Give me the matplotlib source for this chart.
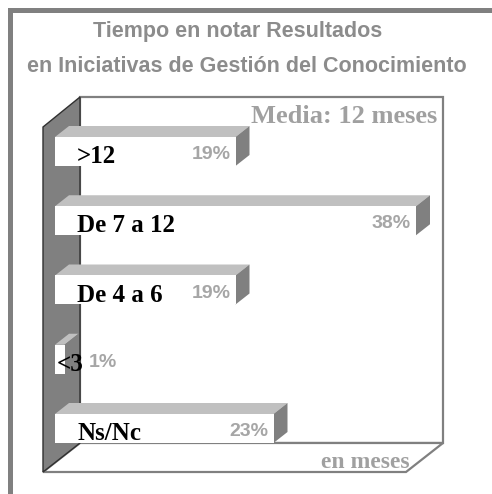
import matplotlib
matplotlib.use("Agg")
import matplotlib.pyplot as plt
from matplotlib.patches import Polygon, Rectangle
from matplotlib.transforms import IdentityTransform

# ---- data ----
categories = [">12", "De 7 a 12", "De 4 a 6", "<3", "Ns/Nc"]
values = [19, 38, 19, 1, 23]
pct_labels = ["19%", "38%", "19%", "1%", "23%"]
title_lines = ["Tiempo en notar Resultados", "en Iniciativas de Gestión del Conocimiento"]
note_top = "Media: 12 meses"
note_bottom = "en meses"

W, H = 492, 494
fig = plt.figure(figsize=(W / 100, H / 100), dpi=100)
fig.patch.set_facecolor("white")

# background / decoration axes in pixel coordinates
bg = fig.add_axes([0, 0, 1, 1])
bg.set_xlim(0, W)
bg.set_ylim(H, 0)
bg.axis("off")

GRAY = "#808080"
LGRAY = "#c0c0c0"

# outer frame (left and top only visible)
bg.add_patch(Rectangle((8, 8), 5, H - 8, facecolor=GRAY, edgecolor="none"))
bg.add_patch(Rectangle((8, 8), W - 8, 5, facecolor=GRAY, edgecolor="none"))

# 3D box: back wall, floor, left wall
wl, wr, wt, wb = 80, 443, 97, 443
ddx, ddy = -37, 29
bg.add_patch(Rectangle((wl, wt), wr - wl, wb - wt, facecolor="white",
                       edgecolor=GRAY, lw=1.6))
bg.add_patch(Polygon([(wl + ddx, wb + ddy), (wl, wb), (wr, wb), (wr + ddx, wb + ddy)],
                     closed=True, facecolor="white", edgecolor=GRAY, lw=1.6))
bg.add_patch(Polygon([(wl + ddx, wt + ddy + 1), (wl, wt), (wl, wb), (wl + ddx, wb + ddy)],
                     closed=True, facecolor=GRAY, edgecolor="#303030", lw=1.0))

# titles
for txt, y, x in zip(title_lines, [37, 72], [238, 247]):
    bg.text(x, y, txt, ha="center", va="baseline", fontsize=15.5, fontweight="bold",
            color="#8c8c8c", family="Liberation Sans")
bg.text(437, 123, note_top, ha="right", va="baseline", fontsize=19, fontweight="bold",
        color="#a0a0a0", family="Liberation Serif")
bg.text(410, 468, note_bottom, ha="right", va="baseline", fontsize=17, fontweight="bold",
        color="#a0a0a0", family="Liberation Serif")

# ---- bar axes ----
px_per_pct = 9.5
spacing = 69.25
bar_h = 29 / spacing
x0px, xmax = 55, 40
ax = fig.add_axes([x0px / W, (H - wb) / H, xmax * px_per_pct / W, (wb - wt) / H])
ax.axis("off")
ax.set_xlim(0, xmax)
ybot = len(categories) - 1 + bar_h / 2
ax.set_ylim(ybot, ybot - (wb - wt) / spacing)

pos = list(range(len(categories)))
ax.barh(pos, values, height=bar_h, left=0, color="white", edgecolor="none", zorder=3,
        clip_on=False)

dx, dy = 14, 11
T = ax.transData
for i, v in zip(pos, values):
    (xa, ya) = T.transform((0, i + bar_h / 2))
    (xb, yb) = T.transform((v, i - bar_h / 2))
    top = [(xa, yb), (xb, yb), (xb + dx, yb + dy), (xa + dx, yb + dy)]
    side = [(xb, ya), (xb, yb), (xb + dx, yb + dy), (xb + dx, ya + dy)]
    ax.add_patch(Polygon(top, closed=True, facecolor=LGRAY, edgecolor="none",
                         transform=IdentityTransform(), clip_on=False, zorder=2))
    ax.add_patch(Polygon(side, closed=True, facecolor=GRAY, edgecolor="none",
                         transform=IdentityTransform(), clip_on=False, zorder=2))

pt = 72 / 100  # points per pixel
for i, (cat, v, lab) in enumerate(zip(categories, values, pct_labels)):
    small = v * px_per_pct < 40
    ax.annotate(cat, (0, i), xytext=((2 if small else 22) * pt, -11.5 * pt),
                textcoords="offset points", ha="left", va="baseline",
                fontsize=18, fontweight="bold", color="black",
                family="Liberation Serif", zorder=5, annotation_clip=False)
    if small:
        ax.annotate(lab, (v, i), xytext=(24 * pt, -7.5 * pt), textcoords="offset points",
                    ha="left", va="baseline", fontsize=14, fontweight="bold",
                    color="#a6a6a6", family="Liberation Sans", zorder=5,
                    annotation_clip=False)
    else:
        ax.annotate(lab, (v, i), xytext=(-5 * pt, -7.5 * pt), textcoords="offset points",
                    ha="right", va="baseline", fontsize=14, fontweight="bold",
                    color="#a6a6a6", family="Liberation Sans", zorder=5,
                    annotation_clip=False)

fig.savefig("out.png", dpi=100)
